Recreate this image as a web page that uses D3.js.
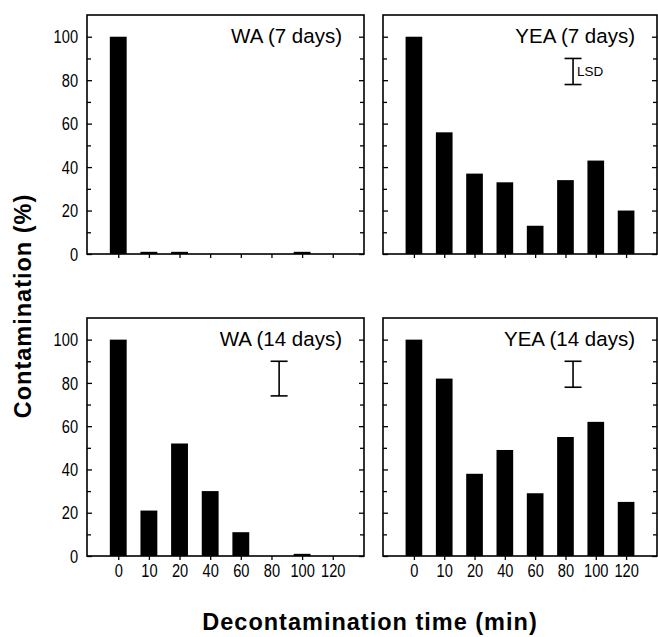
<!DOCTYPE html>
<html>
<head>
<meta charset="utf-8">
<script src="https://cdn.jsdelivr.net/npm/d3@7"></script>
<style>
  body { margin: 0; background: #fff; }
  svg { display: block; }
  .tick text { font-family: "Liberation Sans", Arial, sans-serif; font-size: 19px; fill: #000; }
  .tick line { stroke: #000; stroke-width: 1.3; }
  .title { font-family: "Liberation Sans", Arial, sans-serif; font-size: 20.5px; }
  .axis-title { font-family: "Liberation Sans", Arial, sans-serif; font-size: 23.5px; font-weight: bold; letter-spacing: 1px; }
</style>
</head>
<body>
<script>
const times = ['0', '10', '20', '40', '60', '80', '100', '120']

// contamination (%) per decontamination time
const wa7 = [100, 1, 1, 0, 0, 0, 1, 0]
const yea7 = [100, 56, 37, 33, 13, 34, 43, 20]
const wa14 = [100, 21, 52, 30, 11, 0, 1, 0]
const yea14 = [100, 82, 38, 49, 29, 55, 62, 25]

const panelTitles = ['WA (7 days)', 'YEA (7 days)', 'WA (14 days)', 'YEA (14 days)']

// LSD bars: [low, high] or null
const lsd = [null, [78, 90], [74, 90], [78, 90]]
const lsdLabel = [null, 'LSD', null, null]

const yMajor = [0, 20, 40, 60, 80, 100]
const yMinor = [10, 30, 50, 70, 90]

const width = 658
const height = 637

const svg = d3.select('body')
  .append('svg')
  .attr('width', width)
  .attr('height', height)

const cols = [[87, 364], [383, 657]]
const rows = [[15, 254], [318, 556]]

const panels = [
  { data: wa7, col: 0, row: 0 },
  { data: yea7, col: 1, row: 0 },
  { data: wa14, col: 0, row: 1 },
  { data: yea14, col: 1, row: 1 }
]

// squeeze digits to look like a condensed face
const narrow = 0.77

panels.forEach((p, i) => {
  const [x0, x1] = cols[p.col]
  const [y0, y1] = rows[p.row]

  const x = d3.scalePoint().domain(times).range([x0, x1]).padding(1.02)
  const y = d3.scaleLinear().domain([0, 110]).range([y1, y0])
  const barW = x.step() * 0.55

  const g = svg.append('g')

  // bars
  g.selectAll('rect.bar')
    .data(p.data)
    .enter()
    .append('rect')
    .attr('class', 'bar')
    .attr('x', (d, j) => x(times[j]) - barW / 2)
    .attr('y', d => y(d))
    .attr('width', barW)
    .attr('height', d => y(0) - y(d))
    .attr('fill', '#000')

  // x axis
  const xAxis = d3.axisBottom(x).tickSize(4).tickPadding(4)
  if (p.row === 0) xAxis.tickFormat('')
  g.append('g')
    .attr('transform', `translate(0,${y1})`)
    .call(xAxis)
    .call(a => a.select('.domain').remove())
    .call(a => a.selectAll('text').attr('transform', `scale(${narrow},1)`))

  // y axis, ticks pointing inward on both sides
  const left = d3.axisLeft(y).tickValues(yMajor).tickSize(-5)
  if (p.col === 1) left.tickFormat('')
  g.append('g')
    .attr('transform', `translate(${x0},0)`)
    .call(left)
    .call(a => a.select('.domain').remove())
    .call(a => a.selectAll('text')
      .attr('x', -9 / narrow)
      .attr('transform', `scale(${narrow},1)`))

  g.append('g')
    .attr('transform', `translate(${x0},0)`)
    .call(d3.axisLeft(y).tickValues(yMinor).tickSize(-4).tickFormat(''))
    .call(a => a.select('.domain').remove())

  g.append('g')
    .attr('transform', `translate(${x1},0)`)
    .call(d3.axisRight(y).tickValues(yMajor).tickSize(-5).tickFormat(''))
    .call(a => a.select('.domain').remove())

  g.append('g')
    .attr('transform', `translate(${x1},0)`)
    .call(d3.axisRight(y).tickValues(yMinor).tickSize(-4).tickFormat(''))
    .call(a => a.select('.domain').remove())

  // frame
  g.append('rect')
    .attr('x', x0)
    .attr('y', y0)
    .attr('width', x1 - x0)
    .attr('height', y1 - y0)
    .attr('fill', 'none')
    .attr('stroke', '#000')
    .attr('stroke-width', 1.6)

  g.append('text')
    .attr('class', 'title')
    .attr('x', x1 - 22)
    .attr('y', y0 + 28)
    .attr('text-anchor', 'end')
    .text(panelTitles[i])

  if (lsd[i]) {
    const lx = x(times[0]) + x.step() * 5.25
    const cap = 8.5
    const lg = g.append('g').attr('stroke', '#000').attr('stroke-width', 1.6)
    lg.append('line').attr('x1', lx).attr('x2', lx).attr('y1', y(lsd[i][0])).attr('y2', y(lsd[i][1]))
    lg.append('line').attr('x1', lx - cap).attr('x2', lx + cap).attr('y1', y(lsd[i][0])).attr('y2', y(lsd[i][0]))
    lg.append('line').attr('x1', lx - cap).attr('x2', lx + cap).attr('y1', y(lsd[i][1])).attr('y2', y(lsd[i][1]))
    if (lsdLabel[i]) {
      g.append('text')
        .attr('x', lx + 4)
        .attr('y', y((lsd[i][0] + lsd[i][1]) / 2) + 5)
        .attr('font-family', 'Liberation Sans, Arial, sans-serif')
        .attr('font-size', 13.5)
        .text(lsdLabel[i])
    }
  }
})

svg.append('text')
  .attr('class', 'axis-title')
  .attr('x', 370)
  .attr('y', 630)
  .attr('text-anchor', 'middle')
  .text('Decontamination time (min)')

svg.append('text')
  .attr('class', 'axis-title')
  .attr('transform', 'translate(31,306) rotate(-90)')
  .attr('text-anchor', 'middle')
  .text('Contamination (%)')
</script>
</body>
</html>
